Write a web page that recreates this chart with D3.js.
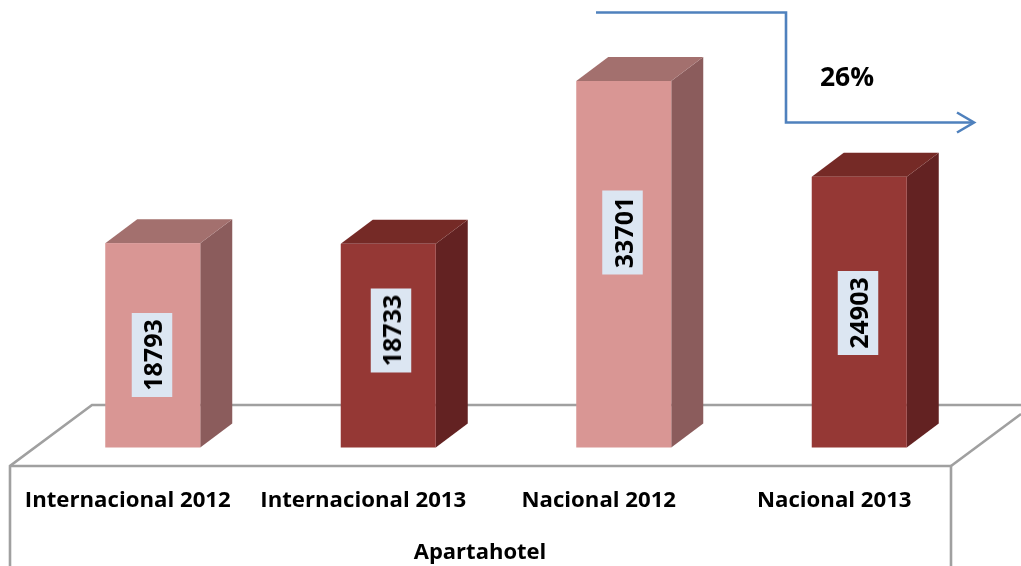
<!DOCTYPE html>
<html><head><meta charset="utf-8">
<script src="https://cdn.jsdelivr.net/npm/d3@7"></script>
<style>html,body{margin:0;padding:0;background:#fff;overflow:hidden}svg{display:block}text{font-family:"Open Sans",sans-serif;font-weight:700;fill:#050505}</style>
</head><body><svg id="c" width="1021" height="566"></svg>
<script>
const categories=["Internacional 2012","Internacional 2013","Nacional 2012","Nacional 2013"];
const values=[18793,18733,33701,24903];
const groupLabel="Apartahotel";
const changeLabel="26%";
const labelCentersX=[152,391,622.5,858];   // pixel centre of each value label
const labelCentersY=[355,330.5,232.5,313];
const pal=[{f:"#d99694",s:"#8b5c5c",t:"#a3706e"},{f:"#953735",s:"#632120",t:"#752a28"}];
const W=1021,H=566,floorY=447.5,depthX=32,depthY=24,barW=95;
const svg=d3.select("#c");
const defs=svg.append("defs");
defs.append("filter").attr("id","soft").attr("x","-5%").attr("y","-5%").attr("width","110%").attr("height","110%")
  .append("feGaussianBlur").attr("stdDeviation",0.45);
const root=svg.append("g").attr("filter","url(#soft)");
const x=d3.scaleBand().domain(categories).range([10,952]);
const y=d3.scaleLinear().domain([0,33701]).range([floorY,81]);
const line=d3.line();
const gray="#a0a0a0";
const frame=root.append("g").attr("fill","none").attr("stroke",gray).attr("stroke-width",2.6);
frame.append("path").attr("d",line([[10,566],[10,466],[92,405],[W,405]]));
frame.append("path").attr("d",line([[10,466],[951,466],[951,566]]));
frame.append("path").attr("d",line([[951,466],[1021,414]]));
const bars=root.selectAll("g.bar").data(categories.map((c,i)=>({c,v:values[i],i}))).join("g").attr("class","bar");
const bx=d=>x(d.c)+x.bandwidth()/2+25-barW/2;
bars.append("path").attr("fill",d=>pal[d.i%2].s).attr("d",d=>{const l=bx(d)+barW,t=y(d.v);return line([[l,t],[l+depthX,t-depthY],[l+depthX,floorY-depthY],[l,floorY]])+"Z";});
bars.append("path").attr("fill",d=>pal[d.i%2].t).attr("d",d=>{const l=bx(d),t=y(d.v);return line([[l,t],[l+depthX,t-depthY],[l+barW+depthX,t-depthY],[l+barW,t]])+"Z";});
bars.append("rect").attr("x",bx).attr("y",d=>y(d.v)).attr("width",barW).attr("height",d=>floorY-y(d.v)).attr("fill",d=>pal[d.i%2].f);
bars.append("rect").attr("x",d=>labelCentersX[d.i]-20.25).attr("y",d=>labelCentersY[d.i]-42).attr("width",40.5).attr("height",84).attr("fill","#dce6f2");
bars.append("text").attr("transform",d=>`translate(${labelCentersX[d.i]},${labelCentersY[d.i]}) rotate(-90)`)
  .attr("text-anchor","middle").attr("dominant-baseline","central").attr("font-size",25).text(d=>d.v);
root.append("g").selectAll("text").data(categories).join("text")
  .attr("x",d=>x(d)+x.bandwidth()/2).attr("y",507).attr("text-anchor","middle").attr("font-size",22.2).text(d=>d);
root.append("text").attr("x",480).attr("y",559).attr("text-anchor","middle").attr("font-size",22).text(groupLabel);
const blue="#4f81bd";
const arrow=root.append("g").attr("fill","none").attr("stroke",blue).attr("stroke-width",2.6);
arrow.append("path").attr("d",line([[596,12.5],[786,12.5],[786,122.5],[974,122.5]]));
arrow.append("path").attr("d",line([[957,112.5],[974,122.5],[957,132.5]]));
root.append("text").attr("x",847).attr("y",86).attr("text-anchor","middle").attr("font-size",26.5).text(changeLabel);
</script></body></html>
